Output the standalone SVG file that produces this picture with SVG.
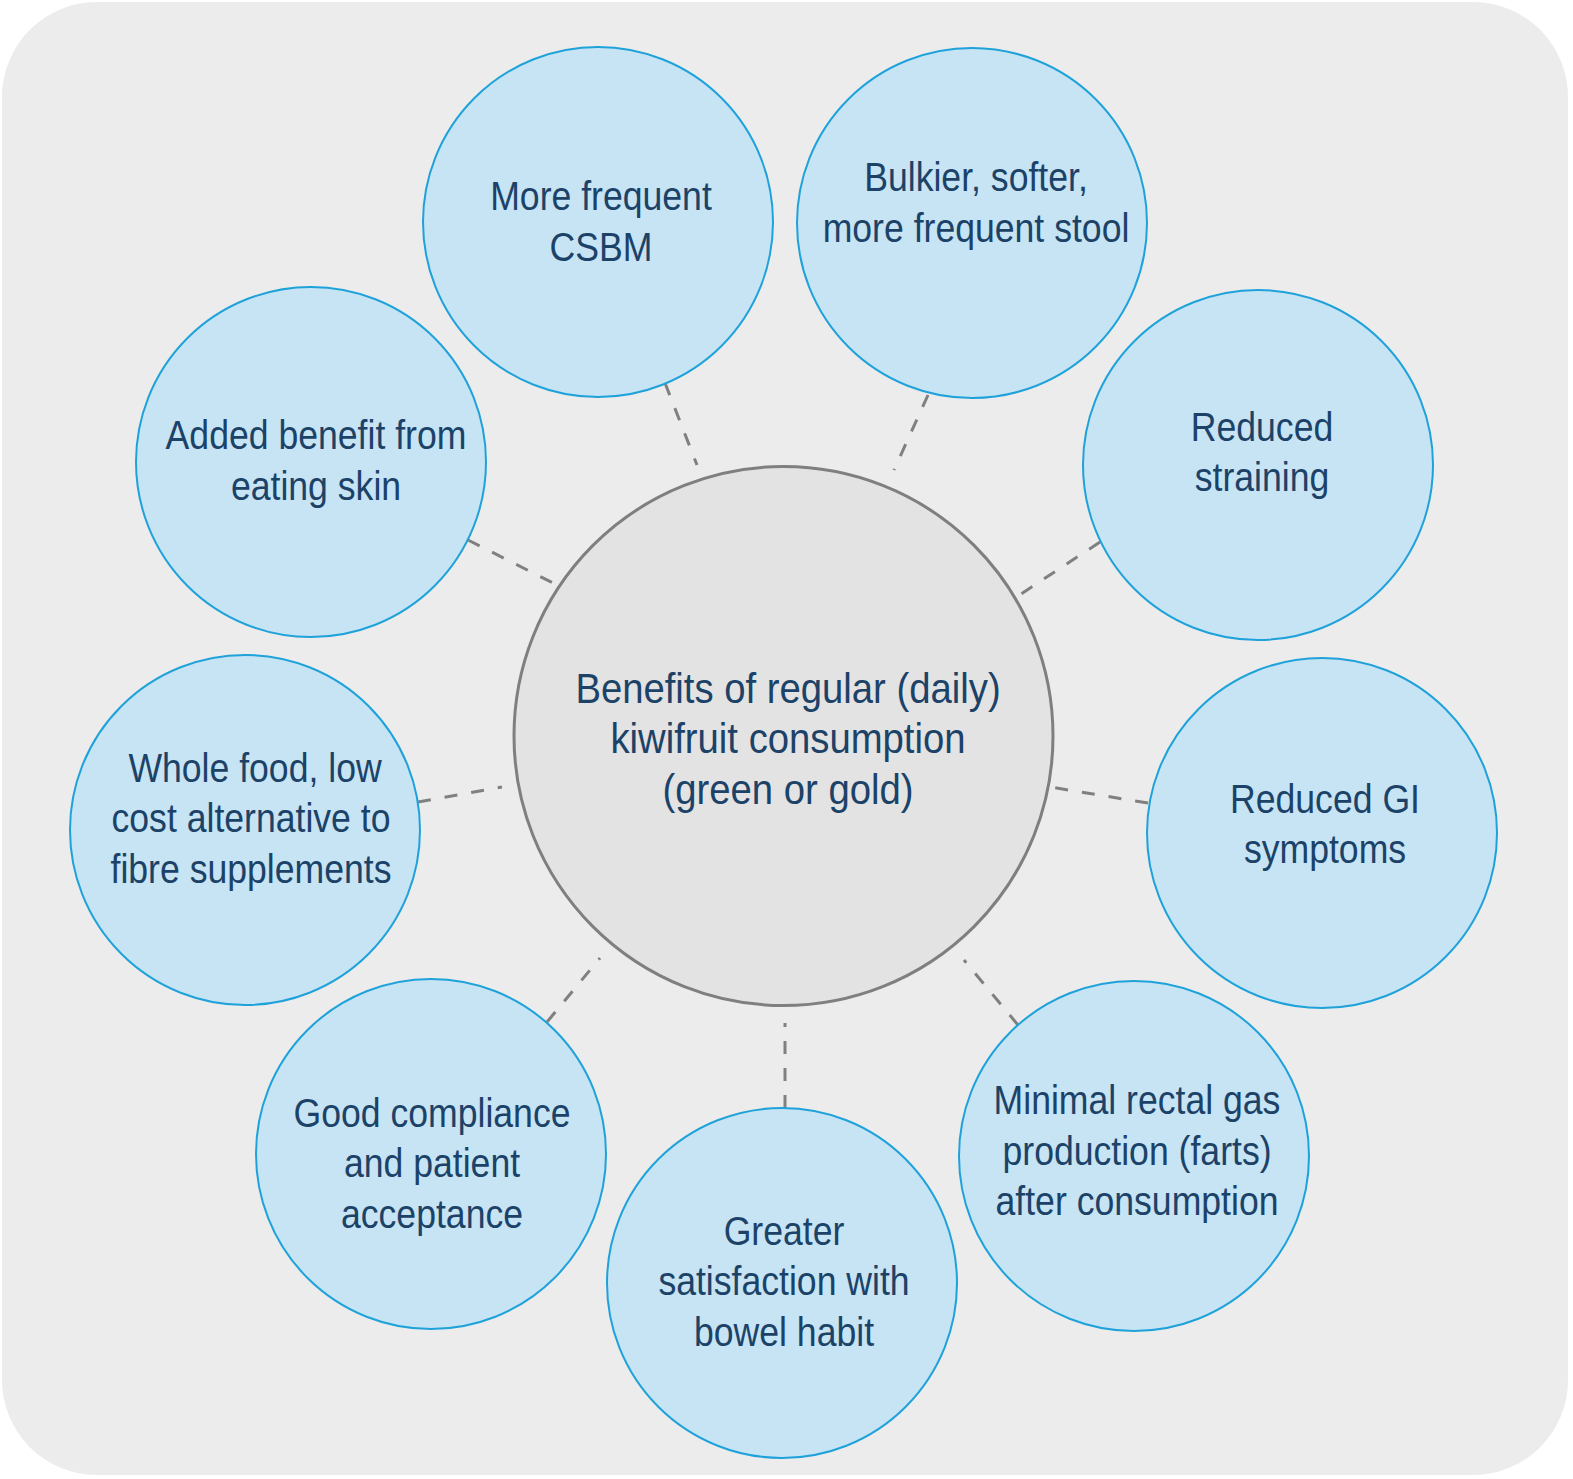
<svg xmlns="http://www.w3.org/2000/svg" width="1573" height="1479" viewBox="0 0 1573 1479">
<style>
.sat{fill:#c6e4f4;stroke:#1fa2da;stroke-width:2}
.hub{fill:#e3e3e3;stroke:#7f7f7f;stroke-width:3}
.t{font-family:"Liberation Sans",Arial,sans-serif;font-size:40px;fill:#1c4268;text-anchor:middle}
.h{font-size:43px}
.c line{stroke:#808080;stroke-width:3;stroke-dasharray:13 14}
</style>
<rect x="2" y="2" width="1566" height="1473" rx="95" ry="95" fill="#ececec"/>
<g class="c" id="connectors">
<line x1="665" y1="383" x2="697" y2="465"/>
<line x1="928" y1="395" x2="894" y2="470"/>
<line x1="1100" y1="542" x2="1015" y2="598"/>
<line x1="1148" y1="803" x2="1050" y2="787"/>
<line x1="1018" y1="1025" x2="964" y2="960"/>
<line x1="785" y1="1108" x2="785" y2="1023"/>
<line x1="547" y1="1022" x2="600" y2="958"/>
<line x1="418" y1="802" x2="502" y2="787"/>
<line x1="468" y1="540" x2="557" y2="585"/>
</g>
<g id="hub"><circle class="hub" cx="783.5" cy="736" r="269.5"/>
<text class="t h" transform="translate(788,0) scale(0.89,1)"><tspan x="0" y="703">Benefits of regular (daily)</tspan><tspan x="0" y="753">kiwifruit consumption</tspan><tspan x="0" y="804">(green or gold)</tspan></text></g>
<g id="n1"><circle class="sat" cx="598" cy="222" r="175"/>
<text class="t" transform="translate(601,0) scale(0.89,1)"><tspan x="0" y="210">More frequent</tspan><tspan x="0" y="261">CSBM</tspan></text></g>
<g id="n2"><circle class="sat" cx="972" cy="223" r="175"/>
<text class="t" transform="translate(976,0) scale(0.89,1)"><tspan x="0" y="191">Bulkier, softer,</tspan><tspan x="0" y="242">more frequent stool</tspan></text></g>
<g id="n3"><circle class="sat" cx="1258" cy="465" r="175"/>
<text class="t" transform="translate(1262,0) scale(0.89,1)"><tspan x="0" y="441">Reduced</tspan><tspan x="0" y="491">straining</tspan></text></g>
<g id="n4"><circle class="sat" cx="1322" cy="833" r="175"/>
<text class="t" transform="translate(1325,0) scale(0.89,1)"><tspan x="0" y="813">Reduced GI</tspan><tspan x="0" y="863">symptoms</tspan></text></g>
<g id="n5"><circle class="sat" cx="1134" cy="1156" r="175"/>
<text class="t" transform="translate(1137,0) scale(0.89,1)"><tspan x="0" y="1114">Minimal rectal gas</tspan><tspan x="0" y="1165">production (farts)</tspan><tspan x="0" y="1215">after consumption</tspan></text></g>
<g id="n6"><circle class="sat" cx="782" cy="1283" r="175"/>
<text class="t" transform="translate(784,0) scale(0.89,1)"><tspan x="0" y="1245">Greater</tspan><tspan x="0" y="1295">satisfaction with</tspan><tspan x="0" y="1346">bowel habit</tspan></text></g>
<g id="n7"><circle class="sat" cx="431" cy="1154" r="175"/>
<text class="t" transform="translate(432,0) scale(0.89,1)"><tspan x="0" y="1127">Good compliance</tspan><tspan x="0" y="1177">and patient</tspan><tspan x="0" y="1228">acceptance</tspan></text></g>
<g id="n8"><circle class="sat" cx="245" cy="830" r="175"/>
<text class="t" transform="translate(251,0) scale(0.89,1)"><tspan x="4.5" y="782">Whole food, low</tspan><tspan x="0" y="832">cost alternative to</tspan><tspan x="0" y="883">fibre supplements</tspan></text></g>
<g id="n9"><circle class="sat" cx="311" cy="462" r="175"/>
<text class="t" transform="translate(316,0) scale(0.89,1)"><tspan x="0" y="449">Added benefit from</tspan><tspan x="0" y="500">eating skin</tspan></text></g>
</svg>
